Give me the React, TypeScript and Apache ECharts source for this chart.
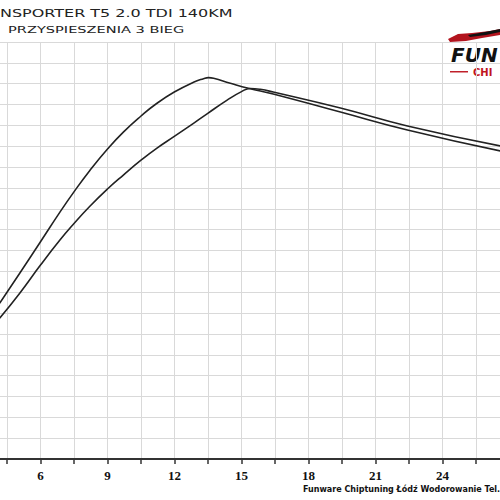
import React, { useEffect, useRef } from "react";
import * as echarts from "echarts";

const titleLine1 = "NSPORTER T5 2.0 TDI 140KM";
const titleLine2 = "PRZYSPIESZENIA 3 BIEG";
const footerText = "Funware Chiptuning Łódź Wodorowanie Tel.";

const xTickLabels = ["6", "9", "12", "15", "18", "21", "24"];

// curve A (earlier peak)
const curveAX = [4.17, 5.07, 6.0, 6.87, 7.49, 8.21, 9.01, 9.71, 10.5, 11.2, 11.99, 12.85, 13.3, 13.52, 13.75, 14.5, 15.31, 16.42, 19.43, 22.43, 26.6];
const curveAY = [7.47, 8.91, 10.42, 11.84, 12.8, 13.84, 14.88, 15.68, 16.45, 17.05, 17.6, 18.07, 18.24, 18.29, 18.26, 18.02, 17.78, 17.51, 16.64, 15.78, 14.77];

// curve B (later peak)
const curveBX = [4.17, 5.07, 6.0, 6.87, 7.49, 8.21, 9.01, 9.71, 10.5, 11.2, 11.99, 12.85, 13.49, 14.34, 15.0, 15.39, 15.84, 16.42, 19.43, 22.43, 26.6];
const curveBY = [6.75, 7.95, 9.3, 10.5, 11.28, 12.12, 12.96, 13.62, 14.33, 14.9, 15.47, 16.1, 16.58, 17.2, 17.62, 17.77, 17.73, 17.6, 16.83, 15.97, 15.01];

export default function App() {
  const ref = useRef<HTMLDivElement>(null);
  useEffect(() => {
    if (!ref.current) return;
    const chart = echarts.init(ref.current, null, { renderer: "svg" });
    const pairs = (xs: number[], ys: number[]) => xs.map((x, i) => [x, ys[i]]);
    chart.setOption({
      animation: false,
      backgroundColor: "#ffffff",
      grid: { left: -26.5, width: 536, top: 42, height: 417, containLabel: false, outerBoundsMode: "none" },
      xAxis: {
        type: "value",
        min: 3,
        max: 27,
        interval: 1.5,
        axisLine: { show: true, lineStyle: { color: "#333", width: 2 } },
        axisTick: { show: true, length: 5, lineStyle: { color: "#333", width: 1.5 } },
        axisLabel: {
          interval: 1,
          margin: 10,
          color: "#111",
          fontFamily: "Liberation Serif",
          fontWeight: "bold",
          fontSize: 13,
          formatter: (v: number) => {
            const s = String(Math.round(v));
            return Number.isInteger(v) && xTickLabels.includes(s) ? s : "";
          },
        },
        splitLine: { show: true, lineStyle: { color: "#d9d9d9", width: 1 } },
      },
      yAxis: {
        type: "value",
        min: 0,
        max: 20,
        interval: 1,
        axisLine: { show: false },
        axisTick: { show: false },
        axisLabel: { show: false },
        splitLine: { show: true, lineStyle: { color: "#d9d9d9", width: 1 } },
      },
      series: [
        {
          type: "line",
          data: pairs(curveAX, curveAY),
          showSymbol: false,
          smooth: 0.5,
          lineStyle: { color: "#222", width: 1.6 },
        },
        {
          type: "line",
          data: pairs(curveBX, curveBY),
          showSymbol: false,
          smooth: 0.5,
          lineStyle: { color: "#222", width: 1.6 },
        },
      ],
      graphic: [
        {
          type: "text",
          x: 0,
          y: 9,
          scaleX: 1.6,
          style: { text: titleLine1, fill: "#222", font: "10px 'DejaVu Sans'" },
        },
        {
          type: "text",
          x: 8,
          y: 26,
          scaleX: 1.62,
          style: { text: titleLine2, fill: "#222", font: "9px 'DejaVu Sans'" },
        },
        {
          type: "text",
          x: 303,
          y: 485,
          style: { text: footerText, fill: "#111", font: "bold 8px 'DejaVu Sans'" },
        },
        {
          type: "polygon",
          shape: { points: [[448, 39], [458, 34], [472, 33], [490, 31], [500, 29], [500, 35], [482, 38], [466, 41], [450, 42]] },
          style: { fill: "#b3141e" },
        },
        {
          type: "polygon",
          shape: { points: [[468, 35], [485, 32], [500, 29], [500, 32], [486, 35], [470, 37]] },
          style: { fill: "#111" },
        },
        {
          type: "text",
          x: 451,
          y: 45,
          style: { text: "FUN", fill: "#111", font: "italic bold 20px 'DejaVu Sans'" },
        },
        {
          type: "rect",
          shape: { x: 450, y: 71, width: 18, height: 1.5 },
          style: { fill: "#c0202a" },
        },
        {
          type: "text",
          x: 473,
          y: 67,
          style: { text: "CHI", fill: "#c0141e", font: "bold 10px 'DejaVu Sans'" },
        },
      ],
    });
    return () => chart.dispose();
  }, []);
  return (
    <div
      ref={ref}
      style={{ position: "fixed", left: 0, top: 0, width: 500, height: 500 }}
    />
  );
}
